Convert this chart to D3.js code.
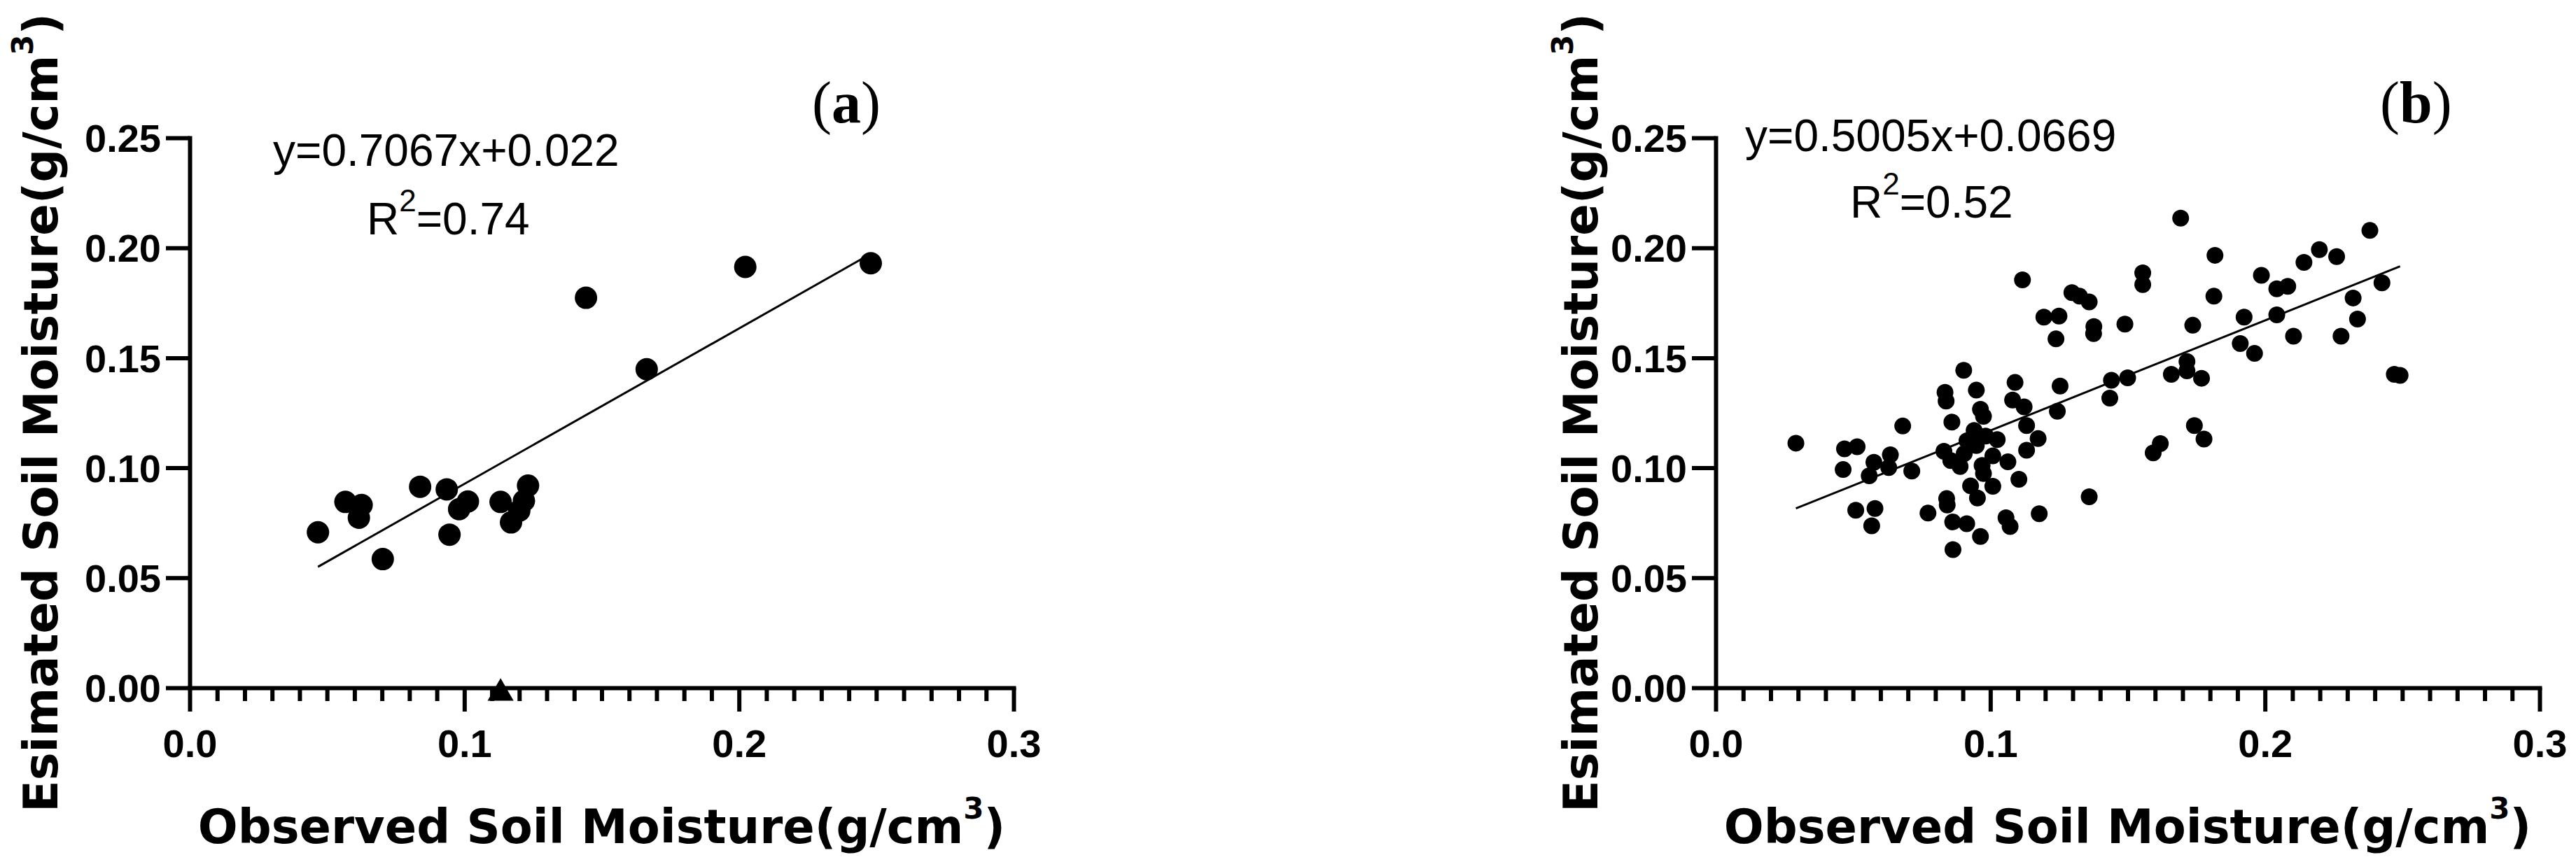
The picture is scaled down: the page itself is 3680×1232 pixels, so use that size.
<!DOCTYPE html>
<html>
<head>
<meta charset="utf-8">
<script src="https://cdn.jsdelivr.net/npm/d3@7"></script>
<style>
  html, body { margin: 0; padding: 0; background: #ffffff; }
  svg { display: block; }
</style>
</head>
<body>
<svg id="chart" width="3680" height="1232"></svg>
<script>
// ---------------- DATA ----------------
// Panel (a): observed vs estimated soil moisture (g/cm3)
const obsA = [0.0467, 0.0567, 0.0626, 0.0616, 0.0703, 0.0839, 0.0936, 0.0946, 0.0981, 0.1013,
              0.1132, 0.1170, 0.1200, 0.1217, 0.1232, 0.1443, 0.1664, 0.2023, 0.2480];
const estA = [0.0707, 0.0845, 0.0831, 0.0773, 0.0585, 0.0914, 0.0902, 0.0696, 0.0812, 0.0847,
              0.0845, 0.0752, 0.0805, 0.0850, 0.0919, 0.1773, 0.1448, 0.1913, 0.1930];
// Panel (a): point drawn as a triangle on the x axis
const triObsA = [0.1132];
const triEstA = [-0.0025];

// Panel (b)
const obsB = [0.0292, 0.0469, 0.0515, 0.0464, 0.0576, 0.0559, 0.0636, 0.0630, 0.0681, 0.0714,
              0.0510, 0.0580, 0.0568, 0.0773, 0.0841, 0.0843, 0.0863, 0.0914, 0.0964, 0.0864,
              0.0928, 0.0953, 0.1009, 0.1104, 0.1057, 0.1072, 0.1178, 0.1360,
              0.0903, 0.0835, 0.0839, 0.0949, 0.0860, 0.0964, 0.0975, 0.0941, 0.0915, 0.0949,
              0.0983, 0.1025, 0.0831, 0.0856, 0.0890, 0.0970, 0.0975, 0.1009, 0.1064, 0.1090,
              0.1081, 0.1123, 0.1254, 0.1244, 0.1132, 0.1174, 0.1132, 0.0905,
              0.1117, 0.1297, 0.1325, 0.1360, 0.1377, 0.1376, 0.1195, 0.1250, 0.1239,
              0.1693, 0.1818, 0.1555, 0.1555, 0.1814, 0.1490, 0.1737, 0.1987, 0.2043, 0.2083,
              0.2142, 0.2198, 0.2261, 0.2382, 0.2426, 0.2321, 0.2337, 0.2277, 0.2104, 0.2043,
              0.1924, 0.1910, 0.1962, 0.1716, 0.1716, 0.1659, 0.1769, 0.1500, 0.1441, 0.1435,
              0.1743, 0.1778, 0.1619, 0.1593, 0.2471, 0.2492];
const estB = [0.1112, 0.1086, 0.1096, 0.0992, 0.1025, 0.0964, 0.1059, 0.1001, 0.1190, 0.0985,
              0.0807, 0.0815, 0.0736, 0.0794, 0.0860, 0.0831, 0.0754, 0.0746, 0.0688, 0.0628,
              0.0918, 0.0863, 0.0916, 0.0948, 0.0773, 0.0733, 0.0791, 0.0868,
              0.1443, 0.1343, 0.1303, 0.1353, 0.1208, 0.1266, 0.1234, 0.1170, 0.1123, 0.1101,
              0.1144, 0.1128, 0.1075, 0.1033, 0.1006, 0.1011, 0.0974, 0.1054, 0.1027, 0.1388,
              0.1308, 0.1277, 0.1372, 0.1257, 0.1192, 0.1133, 0.1080, 0.1065,
              0.1854, 0.1796, 0.1780, 0.1754, 0.1642, 0.1610, 0.1685, 0.1690, 0.1586,
              0.2135, 0.1966, 0.1886, 0.1833, 0.1780, 0.1653, 0.1648, 0.1875, 0.1814, 0.1825,
              0.1934, 0.1992, 0.1960, 0.2079, 0.1841, 0.1772, 0.1676, 0.1598, 0.1598, 0.1695,
              0.1685, 0.1565, 0.1520, 0.1483, 0.1441, 0.1425, 0.1407, 0.1409, 0.1398, 0.1317,
              0.1192, 0.1131, 0.1110, 0.1068, 0.1425, 0.1420];

// Regression fits
const slopeA = 0.7067, interceptA = 0.022;
const slopeB = 0.5005, interceptB = 0.0669;
const eqTextA = "y=0.7067x+0.022", r2TextA = "=0.74";
const eqTextB = "y=0.5005x+0.0669", r2TextB = "=0.52";
const panelLabels = ["a", "b"];

// Axes
const xDomain = [0, 0.3];
const yDomain = [0, 0.25];
const xTicks = [0, 0.1, 0.2, 0.3];
const xTickLabels = ["0.0", "0.1", "0.2", "0.3"];
const yTicks = [0, 0.05, 0.10, 0.15, 0.20, 0.25];
const yTickLabels = ["0.00", "0.05", "0.10", "0.15", "0.20", "0.25"];
const xTitleMain = "Observed Soil Moisture(g/cm";
const yTitleMain = "Esimated Soil Moisture(g/cm";

// ---------------- LAYOUT ----------------
const panels = [
  { obs: obsA, est: estA, tri: true, slope: slopeA, intercept: interceptA, eq: eqTextA, r2: r2TextA,
    label: panelLabels[0], x0: 271, x1: 1448, r: 16,
    eqX: 390, eqY: 237, r2X: 524, r2Y: 335, labX: 1160, labY: 175, yTitleX: 82 },
  { obs: obsB, est: estB, tri: false, slope: slopeB, intercept: interceptB, eq: eqTextB, r2: r2TextB,
    label: panelLabels[1], x0: 2451, x1: 3628, r: 12,
    eqX: 2493, eqY: 216, r2X: 2643, r2Y: 311, labX: 3400, labY: 175, yTitleX: 2282 }
];
const yTop = 197, yBottom = 983;

const svg = d3.select("#chart");
svg.append("rect").attr("width", 3680).attr("height", 1232).attr("fill", "#ffffff");

const tickFont = "'Liberation Sans', Arial, sans-serif";
const titleFont = "'DejaVu Sans', Verdana, sans-serif";
const serifFont = "'Liberation Serif', 'Times New Roman', serif";

panels.forEach(p => {
  const x = d3.scaleLinear().domain(xDomain).range([p.x0, p.x1]);
  const y = d3.scaleLinear().domain(yDomain).range([yBottom, yTop]);
  const g = svg.append("g");

  // minor x ticks
  const minorVals = x.ticks(30).filter(v => Math.round(v * 100) % 10 !== 0);
  const gMinor = g.append("g").attr("transform", `translate(0,${y(0)})`)
    .call(d3.axisBottom(x).tickValues(minorVals).tickSize(19).tickFormat(""));
  gMinor.select(".domain").remove();

  // major x axis
  const gx = g.append("g").attr("transform", `translate(0,${y(0)})`)
    .call(d3.axisBottom(x).tickValues(xTicks).tickSize(34).tickSizeOuter(0)
      .tickFormat((d, i) => xTickLabels[i]));
  gx.selectAll("text").attr("y", 99).attr("dy", 0);

  // y axis
  const gy = g.append("g").attr("transform", `translate(${x(0)},0)`)
    .call(d3.axisLeft(y).tickValues(yTicks).tickSize(34).tickSizeOuter(0).tickPadding(7)
      .tickFormat((d, i) => yTickLabels[i]));
  gy.selectAll("text").attr("dy", "0.35em");

  [gMinor, gx, gy].forEach(a => {
    a.attr("font-family", null).attr("font-size", null);
    a.selectAll("line").attr("stroke", "#000").attr("stroke-width", 6);
    a.selectAll(".domain").attr("stroke", "#000").attr("stroke-width", 6).attr("stroke-linecap", "square");
    a.selectAll("text").attr("fill", "#000")
      .style("font-family", tickFont).style("font-size", "56px").style("font-weight", "bold");
  });

  // regression line over data extent
  const ext = d3.extent(p.obs);
  g.append("path")
    .datum(ext)
    .attr("d", d3.line().x(v => x(v)).y(v => y(p.slope * v + p.intercept)))
    .attr("stroke", "#000").attr("stroke-width", 3).attr("fill", "none");

  // points
  g.append("g").selectAll("circle")
    .data(p.obs.map((v, i) => [v, p.est[i]]))
    .join("circle")
    .attr("cx", d => x(d[0])).attr("cy", d => y(d[1])).attr("r", p.r).attr("fill", "#000");

  if (p.tri) {
    g.append("g").selectAll("path")
      .data(triObsA.map((v, i) => [v, triEstA[i]]))
      .join("path")
      .attr("d", d3.symbol(d3.symbolTriangle, 600))
      .attr("transform", d => `translate(${x(d[0])},${y(d[1])})`)
      .attr("fill", "#000");
  }

  // equation text
  g.append("text").attr("x", p.eqX).attr("y", p.eqY)
    .style("font-family", tickFont).style("font-size", "64px").attr("fill", "#000")
    .text(p.eq);
  const r2 = g.append("text").attr("x", p.r2X).attr("y", p.r2Y)
    .style("font-family", tickFont).style("font-size", "64px").attr("fill", "#000");
  r2.append("tspan").text("R");
  r2.append("tspan").attr("dy", -33).style("font-size", "44px").text("2");
  r2.append("tspan").attr("dy", 33).text(p.r2);

  // panel label
  const lab = g.append("text").attr("x", p.labX).attr("y", p.labY)
    .style("font-family", serifFont).style("font-size", "84px").attr("fill", "#000");
  lab.append("tspan").text("(");
  lab.append("tspan").style("font-weight", "bold").text(p.label);
  lab.append("tspan").text(")");

  // x title
  const xt = g.append("text")
    .attr("x", (p.x0 + p.x1) / 2).attr("y", 1205).attr("text-anchor", "middle")
    .style("font-family", titleFont).style("font-size", "67px").style("font-weight", "bold")
    .attr("fill", "#000");
  xt.append("tspan").text(xTitleMain);
  xt.append("tspan").attr("dy", -35).style("font-size", "42px").text("3");
  xt.append("tspan").attr("dy", 35).text(")");

  // y title
  const yt = g.append("text")
    .attr("transform", `translate(${p.yTitleX},${(yTop + yBottom) / 2}) rotate(-90)`)
    .attr("text-anchor", "middle")
    .style("font-family", titleFont).style("font-size", "67px").style("font-weight", "bold")
    .attr("fill", "#000");
  yt.append("tspan").text(yTitleMain);
  yt.append("tspan").attr("dy", -35).style("font-size", "42px").text("3");
  yt.append("tspan").attr("dy", 35).text(")");
});
</script>
</body>
</html>
